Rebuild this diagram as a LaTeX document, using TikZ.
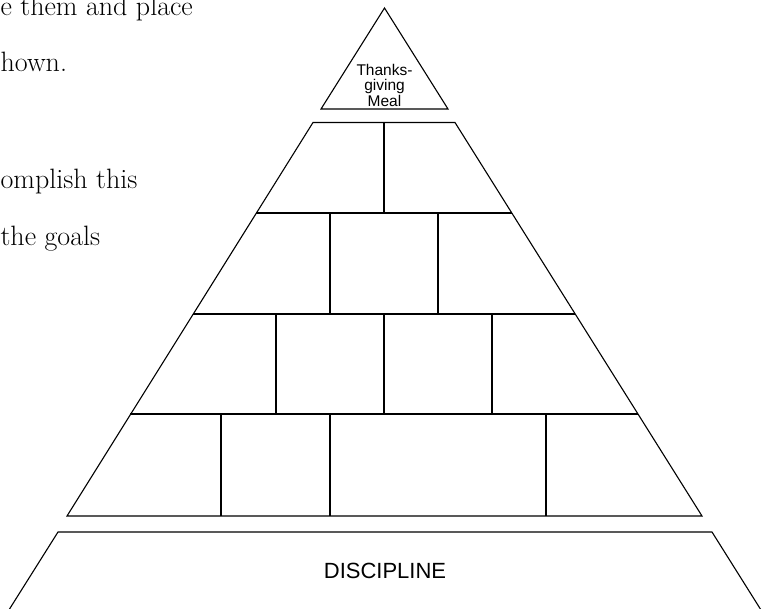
\documentclass[tikz,border=0pt]{standalone}
\usepackage{fontspec}
\setsansfont{Liberation Sans}
\usepackage{tikz}
\usetikzlibrary{positioning}

\begin{document}
\begin{tikzpicture}[x=10pt, y=-10pt, line width=1.1pt]
    \useasboundingbox (0,0) rectangle (76.5,60.8);
    \clip (0,0) rectangle (76.5,60.8);
    % Cropped page text on the left
    \node[anchor=base west, inner sep=0pt, font=\fontsize{28}{32}\selectfont] (lineA) at (0, 1.55) {e them and place};
    \node[anchor=base west, inner sep=0pt, font=\fontsize{28}{32}\selectfont] (lineB) at (0, 7.15) {hown.};
    \node[anchor=base west, inner sep=0pt, font=\fontsize{28}{32}\selectfont] (lineC) at (0, 18.8) {omplish this};
    \node[anchor=base west, inner sep=0pt, font=\fontsize{28}{32}\selectfont] (lineD) at (0, 24.55) {the goals};
    % Top triangle
    \draw (38.45,0.8) -- (32.1,10.9) -- (44.8,10.9) -- cycle;
    % Pyramid outline
    \draw (31.3,12.25) -- (45.5,12.25) -- (70.2,51.6) -- (6.7,51.6) -- cycle;
    % Row lines
    \draw (25.64,21.3) -- (51.18,21.3);
    \draw (19.33,31.4) -- (57.45,31.4);
    \draw (13.0,41.4) -- (63.8,41.4);
    % Bricks, row 1
    \draw (38.4,12.25) -- (38.4,21.3);
    % Bricks, row 2
    \draw (33.0,21.3) -- (33.0,31.4);
    \draw (43.8,21.3) -- (43.8,31.4);
    % Bricks, row 3
    \draw (27.6,31.4) -- (27.6,41.4);
    \draw (38.4,31.4) -- (38.4,41.4);
    \draw (49.2,31.4) -- (49.2,41.4);
    % Bricks, row 4
    \draw (22.1,41.4) -- (22.1,51.6);
    \draw (33.0,41.4) -- (33.0,51.6);
    \draw (54.6,41.4) -- (54.6,51.6);
    % Base (open at the bottom)
    \draw (0.89,61.0) -- (5.8,53.2) -- (71.2,53.2) -- (76.1,61.0);
    % Labels
    \node[align=center, inner sep=0pt, font=\sffamily\fontsize{15.5}{15.5}\selectfont] (meal) at (38.45,8.5) {Thanks-\\giving\\Meal};
    \node[inner sep=0pt, font=\sffamily\fontsize{22}{26}\selectfont] (discipline) at (38.5,57.08) {DISCIPLINE};
\end{tikzpicture}
\end{document}
